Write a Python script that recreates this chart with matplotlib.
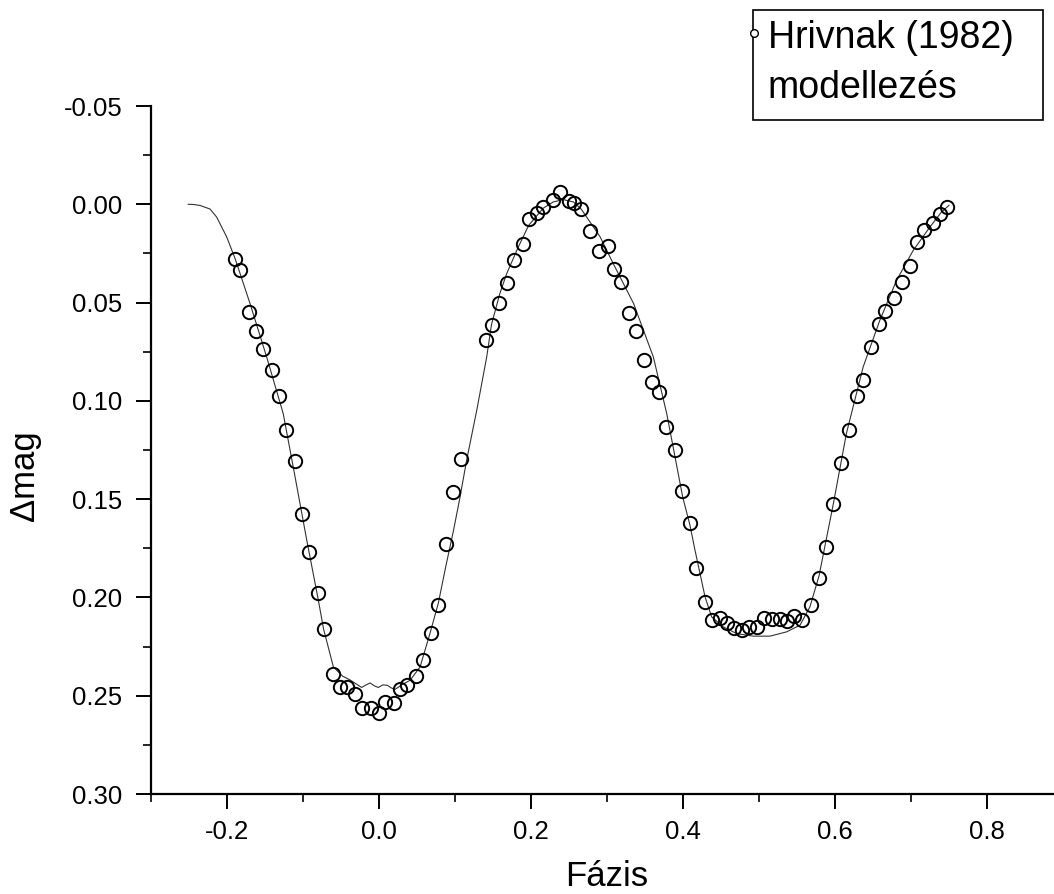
import matplotlib
matplotlib.use("Agg")
import matplotlib.pyplot as plt
from matplotlib.patches import Rectangle
from matplotlib.ticker import MultipleLocator

# Observed light curve (phase, delta magnitude)
obs_phase = [
    -0.189, -0.1825, -0.171, -0.162, -0.152, -0.141, -0.131, -0.122, -0.111,
    -0.101, -0.092, -0.080, -0.073, -0.060, -0.051, -0.0425, -0.031, -0.0224,
    -0.011, 0.000, 0.0083, 0.0193, 0.0276, 0.0373, 0.0487, 0.058, 0.068, 0.078,
    0.088, 0.098, 0.1075, 0.1404, 0.1483, 0.1579, 0.168, 0.178, 0.189, 0.197,
    0.208, 0.216, 0.2286, 0.2386, 0.250, 0.257, 0.266, 0.278, 0.289, 0.301,
    0.309, 0.319, 0.329, 0.338, 0.349, 0.359, 0.369, 0.378, 0.389, 0.399,
    0.409, 0.4175, 0.429, 0.438, 0.4487, 0.458, 0.467, 0.477, 0.487, 0.497,
    0.507, 0.517, 0.527, 0.537, 0.5465, 0.557, 0.569, 0.5786, 0.5877, 0.597,
    0.608, 0.618, 0.6285, 0.6364, 0.647, 0.658, 0.6658, 0.678, 0.688, 0.6987,
    0.7075, 0.717, 0.729, 0.7377, 0.748,
]
obs_dmag = [
    0.028, 0.0332, 0.0548, 0.0644, 0.0736, 0.0843, 0.0975, 0.1146, 0.1306,
    0.1577, 0.177, 0.198, 0.2162, 0.239, 0.2458, 0.2455, 0.2492, 0.256,
    0.2562, 0.2587, 0.2531, 0.2538, 0.2468, 0.2448, 0.240, 0.232, 0.218, 0.204,
    0.173, 0.1466, 0.1296, 0.0688, 0.0612, 0.0502, 0.040, 0.0281, 0.020, 0.0076,
    0.0042, 0.0014, -0.002, -0.0061, -0.0017, -0.0009, 0.0024, 0.0137, 0.024, 0.0214,
    0.0329, 0.0393, 0.0554, 0.0646, 0.0792, 0.0902, 0.0956, 0.1134, 0.1248, 0.1458,
    0.162, 0.185, 0.2021, 0.2116, 0.2107, 0.2128, 0.2153, 0.2167, 0.2148, 0.2148,
    0.2104, 0.211, 0.211, 0.212, 0.2094, 0.2116, 0.204, 0.190, 0.1746, 0.1526,
    0.1316, 0.115, 0.0975, 0.0895, 0.0726, 0.0607, 0.0544, 0.0476, 0.0397, 0.0315,
    0.0192, 0.0129, 0.0093, 0.0047, 0.0014,
]

# Synthetic model curve
model_phase = [
    -0.251, -0.244, -0.2355, -0.2224, -0.2136, -0.2004, -0.189, -0.1697, -0.1478,
    -0.126, -0.1096, -0.095, -0.0798, -0.073, -0.060, -0.048, -0.038, -0.0228,
    -0.017, -0.0118, -0.006, -0.001, 0.005, 0.011, 0.016, 0.021, 0.030, 0.041,
    0.054, 0.067, 0.078, 0.088, 0.098, 0.1066, 0.1154, 0.1286, 0.1417, 0.148,
    0.159, 0.168, 0.1833, 0.197, 0.216, 0.2293, 0.2425, 0.2557, 0.266, 0.291,
    0.308, 0.335, 0.361, 0.3786, 0.3996, 0.409, 0.4158, 0.429, 0.4377, 0.453,
    0.4707, 0.4925, 0.5145, 0.5365, 0.554, 0.567, 0.579, 0.598, 0.615, 0.637,
    0.659, 0.681, 0.703, 0.725, 0.740, 0.750,
]
model_dmag = [
    0.000, 0.0001, 0.0006, 0.0024, 0.0065, 0.0166, 0.028, 0.0505, 0.0777,
    0.1065, 0.1404, 0.171, 0.2014, 0.216, 0.2354, 0.240, 0.242, 0.2458,
    0.2445, 0.2435, 0.245, 0.2458, 0.2445, 0.2447, 0.246, 0.2468, 0.2445, 0.2421,
    0.2354, 0.2184, 0.203, 0.184, 0.166, 0.149, 0.130, 0.1048, 0.0777, 0.0612,
    0.0454, 0.0353, 0.0217, 0.0107, 0.002, -0.0012, -0.0024, -0.0012, 0.0024, 0.0166,
    0.030, 0.0505, 0.0777, 0.1065, 0.1489, 0.163, 0.176, 0.1997, 0.2099, 0.215,
    0.2184, 0.2197, 0.2197, 0.2175, 0.2141, 0.2048, 0.189, 0.152, 0.1166, 0.0828,
    0.059, 0.0387, 0.0234, 0.0115, 0.004, 0.0005,
]

plt.rcParams["font.family"] = ["Liberation Sans", "DejaVu Sans"]

W, H = 1054, 894
fig = plt.figure(figsize=(W / 100, H / 100), dpi=100)
ax = fig.add_axes([151 / W, 100 / H, 912 / W, 688 / H])

ax.plot(model_phase, model_dmag, color="#333333", lw=0.8, zorder=2)
ax.plot(obs_phase, obs_dmag, ls="none", marker="o", ms=9.6, mew=1.4,
        mfc="none", mec="black", zorder=3)

ax.set_xlim(-0.3, 0.9)
ax.set_ylim(0.30, -0.05)
ax.xaxis.set_minor_locator(MultipleLocator(0.1))
ax.yaxis.set_minor_locator(MultipleLocator(0.025))
xt = [-0.2, 0.0, 0.2, 0.4, 0.6, 0.8]
ax.set_xticks(xt)
ax.set_xticklabels([f"{v:.1f}" for v in xt])
yt = [-0.05, 0.0, 0.05, 0.10, 0.15, 0.20, 0.25, 0.30]
ax.set_yticks(yt)
ax.set_yticklabels([f"{v:.2f}" for v in yt])

for s in ["top", "right"]:
    ax.spines[s].set_visible(False)
for s in ["left", "bottom"]:
    ax.spines[s].set_linewidth(1.6)
ax.tick_params(which="major", direction="out", length=10.5, width=1.4,
               labelsize=18.5)
ax.tick_params(which="minor", direction="out", length=6, width=1.2)
ax.tick_params(axis="y", which="major", pad=10)
ax.tick_params(axis="x", which="major", pad=8)

fig.text(607 / W, 8 / H, "Fázis", fontsize=25, ha="center", va="baseline")
fig.text(24 / W, 1 - 476 / H, "Δmag", fontsize=25, rotation=90,
         ha="center", va="center")

# legend box
fig.add_artist(Rectangle((753 / W, 1 - 120 / H), 290 / W, 110 / H,
                         transform=fig.transFigure, fill=False,
                         lw=1.2, ec="black"))
fig.add_artist(plt.Line2D([754 / W], [1 - 33 / H], transform=fig.transFigure,
                          marker="o", ms=5.5, mew=1, mfc="white", mec="black"))
fig.text(768 / W, 1 - 48 / H, "Hrivnak (1982)", fontsize=27,
         ha="left", va="baseline")
fig.text(767 / W, 1 - 98 / H, "modellezés", fontsize=27,
         ha="left", va="baseline")

fig.savefig("out.png", dpi=100)
